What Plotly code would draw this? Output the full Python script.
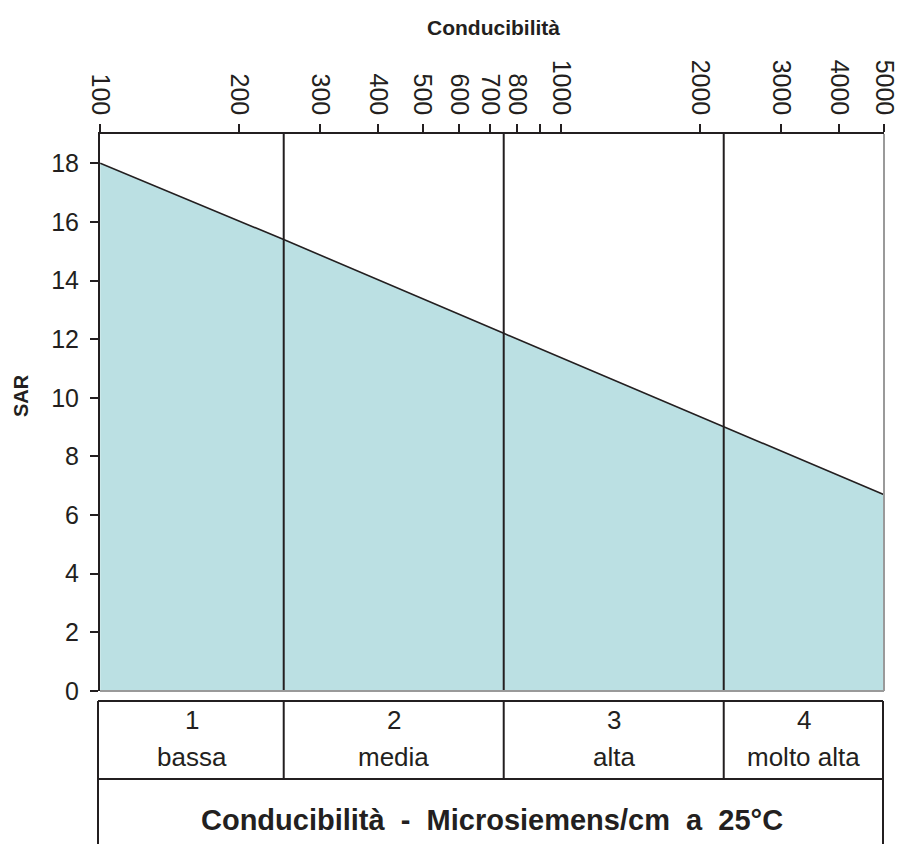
import math
import plotly.graph_objects as go

# ---- data ----
conductivity = [100, 250, 750, 2250, 5000]          # µS/cm
sar_limit = [18, 15.4, 12.2, 9.0, 6.7]               # SAR boundary line
class_bounds = [250, 750, 2250]                      # class boundaries
class_edges = [100, 250, 750, 2250, 5000]
class_numbers = ["1", "2", "3", "4"]
class_names = ["bassa", "media", "alta", "molto alta"]
x_tickvals = [100, 200, 300, 400, 500, 600, 700, 800, 900, 1000, 2000, 3000, 4000, 5000]
x_ticktext = ["100", "200", "300", "400", "500", "600", "700", "800", "", "1000", "2000", "3000", "4000", "5000"]
y_tickvals = [0, 2, 4, 6, 8, 10, 12, 14, 16, 18]

FONT = "Liberation Sans, Arial, sans-serif"
INK = "#231f20"
OFF = 8                     # page body margin
W, H = 903 - OFF, 852 - 2 * OFF
ML, MT = 100 - OFF, 134 - OFF
MR = W - ML - (884 - 100)
MB = H + OFF - 691
PH = H - MT - MB
PW = W - ML - MR


def py(pix):
    """screen pixel row -> paper y"""
    return (H + OFF - MB - pix) / PH


def px(pix):
    return (pix - OFF - ML) / PW


fig = go.Figure()
fig.add_trace(go.Scatter(
    x=conductivity, y=sar_limit, mode="lines",
    line=dict(color=INK, width=1.6),
    fill="tozeroy", fillcolor="#bbe0e3",
    hoverinfo="skip", showlegend=False,
))

shapes = []
for b in class_bounds:
    shapes.append(dict(type="line", xref="x", yref="paper", x0=b, x1=b, y0=0, y1=1,
                       line=dict(color=INK, width=2)))
shapes.append(dict(type="line", xref="paper", yref="paper", x0=1, x1=1, y0=0, y1=1,
                   line=dict(color="#9a9a9a", width=2)))
shapes.append(dict(type="line", xref="paper", yref="paper", x0=0, x1=1, y0=0, y1=0,
                   line=dict(color="#9a9a9a", width=2)))

t_top, t_mid, t_bot = py(701), py(779), py(880)
xl, xr = px(98), px(883)
for yy in (t_top, t_mid):
    shapes.append(dict(type="line", xref="paper", yref="paper", x0=xl, x1=xr, y0=yy, y1=yy,
                       line=dict(color=INK, width=2)))
for xx in (xl, xr):
    shapes.append(dict(type="line", xref="paper", yref="paper", x0=xx, x1=xx, y0=t_top, y1=t_bot,
                       line=dict(color=INK, width=2)))
for b in class_bounds:
    shapes.append(dict(type="line", xref="x", yref="paper", x0=b, x1=b, y0=t_top, y1=t_mid,
                       line=dict(color=INK, width=2)))

annotations = []
for i in range(4):
    xc = (math.log10(class_edges[i]) + math.log10(class_edges[i + 1])) / 2
    annotations.append(dict(x=xc, xref="x", y=py(720), yref="paper", text=class_numbers[i],
                            xanchor="center", yanchor="middle",
                            showarrow=False, font=dict(family=FONT, size=26, color=INK)))
    annotations.append(dict(x=xc, xref="x", y=py(757), yref="paper", text=class_names[i],
                            xanchor="center", yanchor="middle",
                            showarrow=False, font=dict(family=FONT, size=26, color=INK)))

annotations.append(dict(x=px(492), xref="paper", y=py(820), yref="paper",
                        text="<b>Conducibilità  -  Microsiemens/cm  a  25°C</b>",
                        xanchor="center", yanchor="middle",
                        showarrow=False, font=dict(family=FONT, size=29, color=INK)))
annotations.append(dict(x=px(493), xref="paper", y=py(27), yref="paper",
                        text="<b>Conducibilità</b>",
                        xanchor="center", yanchor="middle",
                        showarrow=False, font=dict(family=FONT, size=21, color=INK)))
annotations.append(dict(x=px(21), xref="paper", y=py(396), yref="paper",
                        text="<b>SAR</b>", textangle=-90,
                        xanchor="center", yanchor="middle",
                        showarrow=False, font=dict(family=FONT, size=20, color=INK)))

fig.update_layout(
    width=W, height=H, autosize=False,
    margin=dict(l=ML, r=MR, t=MT, b=MB, pad=0, autoexpand=False),
    paper_bgcolor="white", plot_bgcolor="white",
    shapes=shapes, annotations=annotations,
    font=dict(family=FONT, color=INK),
    xaxis=dict(
        type="log", range=[2 - 0.0005, math.log10(5000) + 0.0008], side="top",
        tickmode="array", tickvals=x_tickvals, ticktext=x_ticktext,
        tickangle=90, ticks="outside", ticklen=8, tickwidth=1.5, tickcolor=INK,
        ticklabeloverflow="allow", automargin=False,
        showline=True, linecolor=INK, linewidth=2, showgrid=False, zeroline=False,
        tickfont=dict(family=FONT, size=25, color=INK),
    ),
    yaxis=dict(
        range=[0, 19], tickmode="array", tickvals=y_tickvals,
        ticks="outside", ticklen=8, tickwidth=1.5, tickcolor=INK,
        ticklabelstandoff=6, automargin=False,
        showline=True, linecolor=INK, linewidth=2, showgrid=False, zeroline=False,
        tickfont=dict(family=FONT, size=25, color=INK),
    ),
)

fig.write_html("out.html")
